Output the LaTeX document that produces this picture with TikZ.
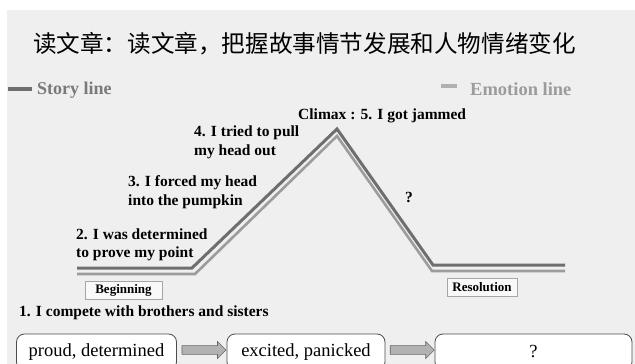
\documentclass[tikz,border=0pt]{standalone}
\usepackage{fontspec}
\setmainfont{Liberation Serif}
\newfontfamily\cjk{Noto Sans CJK SC}
\usetikzlibrary{shapes.arrows,calc}
\definecolor{bgc}{HTML}{EFEFEF}
\definecolor{storyc}{HTML}{6E6E6E}
\definecolor{emoc}{HTML}{9C9C9C}
\definecolor{legc}{HTML}{7A7A7A}
\begin{document}
\begin{tikzpicture}[x=1pt,y=-1pt,
  lbl/.style={anchor=west,align=left,font=\bfseries\fontsize{15.5}{18.5}\selectfont,inner sep=0pt},
  tagbox/.style={draw=gray!70,fill=white!60!bgc,font=\bfseries\fontsize{13}{14}\selectfont,inner sep=0pt,minimum height=18pt},
  emobox/.style={draw=black!70,line width=0.8pt,rounded corners=8pt,fill=white,minimum height=36pt,font=\fontsize{18.5}{20}\selectfont,inner sep=0pt},
  blockarrow/.style={single arrow,draw=gray!80!black,fill=gray!60,minimum height=44pt,minimum width=17pt,single arrow head extend=4pt,inner xsep=0pt,inner ysep=4pt,line width=0.6pt},
  storyl/.style={draw=storyc,line width=3pt},
  emol/.style={draw=emoc,line width=2.6pt}]
\useasboundingbox (0,0) rectangle (635,364);
\begin{scope}
\clip (0,0) rectangle (635,364);
\fill[white] (0,0) rectangle (635,364);
\fill[bgc] (7,10) rectangle (635,364);

% title
\node[font=\cjk\fontsize{23.6}{26}\selectfont,anchor=west,inner sep=0pt] (title) at (33,44) {读文章：读文章，把握故事情节发展和人物情绪变化};

% legend
\coordinate (sl1) at (8,89); \coordinate (sl2) at (32,89);
\draw[draw=storyc,line width=4pt] (sl1) -- (sl2);
\node[anchor=west,inner sep=0pt,text=legc,font=\bfseries\fontsize{18}{20}\selectfont] (storytxt) at (37,90) {Story line};
\coordinate (el1) at (441,86); \coordinate (el2) at (457,86);
\draw[draw=emoc!80,line width=4pt] (el1) -- (el2);
\node[anchor=west,inner sep=0pt,text=emoc,font=\bfseries\fontsize{18.5}{20}\selectfont] (emotxt) at (470,89) {Emotion line};

% story line (outer) and emotion line (inner)
\coordinate (s0) at (77,268); \coordinate (s1) at (192,268); \coordinate (s2) at (337,129);
\coordinate (s3) at (433,265); \coordinate (s4) at (565,265);
\coordinate (e0) at (77,274); \coordinate (e1) at (195,274); \coordinate (e2) at (337,136);
\coordinate (e3) at (432,271); \coordinate (e4) at (565,271);
\draw[emol] (e0) -- (e1) -- (e2) -- (e3) -- (e4);
\draw[storyl] (s0) -- (s1) -- (s2) -- (s3) -- (s4);

% labels
\node[lbl] (climax) at (298,116) {Climax : 5. I got jammed};
\node[lbl] (p4) at (194,142.5) {4. I tried to pull\\my head out};
\node[lbl] (p3) at (128,192) {3. I forced my head\\into the pumpkin};
\node[lbl] (p2) at (76,245) {2. I was determined\\to prove my point};
\node[lbl] (q) at (405,197) {?};
\node[lbl] (p1) at (19,313) {1. I compete with brothers and sisters};

\node[tagbox,minimum width=77pt] (beg) at (123.5,290) {Beginning};
\node[tagbox,minimum width=70pt] (res) at (482,287.5) {Resolution};

% emotion boxes
\node[emobox,minimum width=160pt] (b1) at (96.5,352) {proud, determined};
\node[emobox,minimum width=158pt] (b2) at (306,352) {excited, panicked};
\node[emobox,minimum width=197pt] (b3) at (533.5,352) {?};
\node[blockarrow] (a1) at ($(b1.east)!0.5!(b2.west)+(0,-2)$) {};
\node[blockarrow] (a2) at ($(b2.east)!0.5!(b3.west)+(0,-2)$) {};
\end{scope}
\end{tikzpicture}
\end{document}
